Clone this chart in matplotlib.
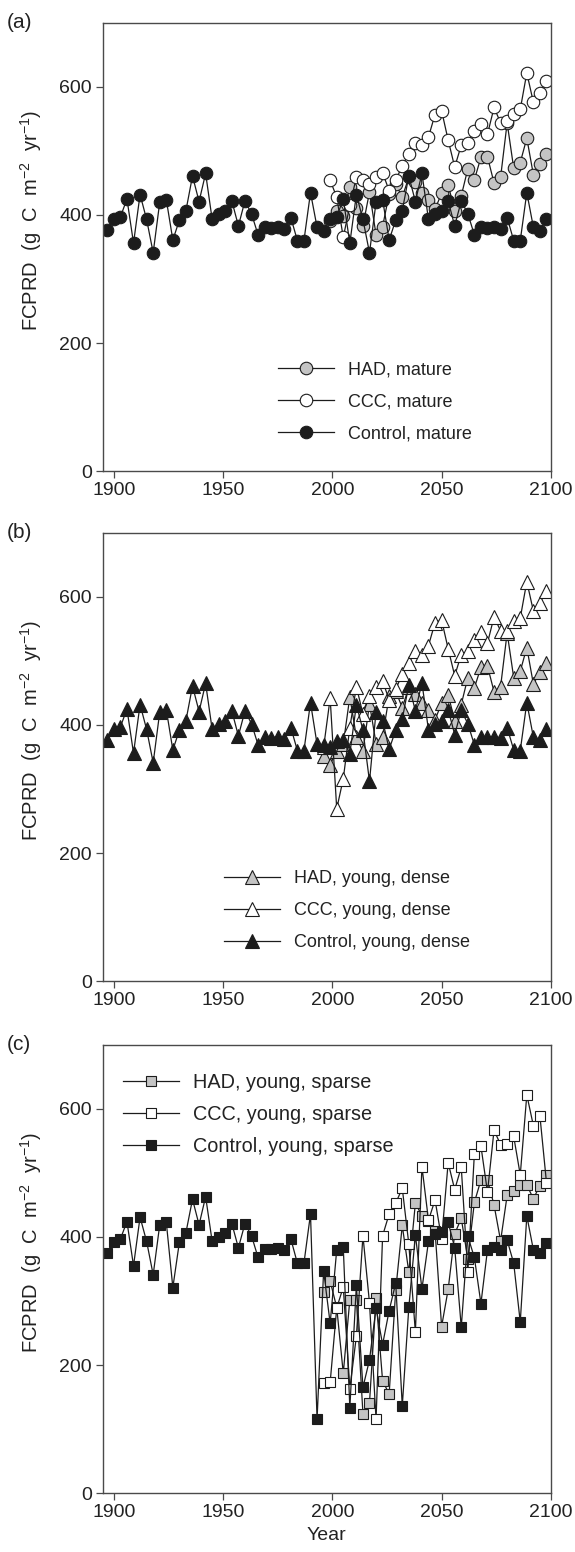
import matplotlib
matplotlib.use("Agg")
import matplotlib.pyplot as plt

plt.rcParams["font.family"] = ["Liberation Sans", "DejaVu Sans"]
plt.rcParams["mathtext.fontset"] = "custom"
plt.rcParams["mathtext.rm"] = "Liberation Sans"
plt.rcParams["mathtext.it"] = "Liberation Sans:italic"

years = [1897, 1900, 1903, 1906, 1909, 1912, 1915, 1918, 1921, 1924, 1927, 1930, 1933, 1936,
         1939, 1942, 1945, 1948, 1951, 1954, 1957, 1960, 1963, 1966, 1969, 1972, 1975, 1978,
         1981, 1984, 1987, 1990, 1993, 1996, 1999, 2002, 2005, 2008, 2011, 2014, 2017, 2020,
         2023, 2026, 2029, 2032, 2035, 2038, 2041, 2044, 2047, 2050, 2053, 2056, 2059, 2062,
         2065, 2068, 2071, 2074, 2077, 2080, 2083, 2086, 2089, 2092, 2095, 2098]
years_a = years[34:]   # scenario runs in (a) start 1999
years_bc = years[33:]  # scenario runs in (b), (c) start 1996

# (a) mature
control_a = [376, 393, 397, 425, 356, 432, 393, 341, 420, 424, 361, 392, 407, 461, 421, 465, 393,
             402, 406, 422, 383, 422, 402, 369, 381, 380, 382, 378, 396, 360, 360, 435, 381,
             375, 393, 397, 425, 356, 432, 393, 341, 420, 424, 361, 392, 407, 461, 421, 465, 393,
             402, 406, 422, 383, 422, 402, 369, 381, 380, 382, 378, 396, 360, 360, 435, 381, 375, 393]
had_a = [391, 407, 398, 444, 411, 383, 436, 369, 382, 433, 448, 428, 459, 451, 434, 423, 409,
         434, 447, 407, 430, 472, 455, 490, 491, 450, 459, 544, 473, 482, 520, 463, 480, 496]
ccc_a = [454, 428, 365, 415, 459, 454, 448, 459, 466, 438, 454, 477, 496, 512, 510, 522, 557,
         563, 517, 475, 509, 512, 531, 542, 526, 568, 544, 547, 558, 565, 622, 576, 590, 609]

# (b) young, dense
control_b = [376, 393, 397, 425, 356, 432, 393, 341, 420, 424, 361, 392, 407, 461, 421, 465, 393,
             402, 406, 422, 383, 422, 402, 369, 381, 380, 382, 378, 396, 360, 360, 435, 370,
             368, 365, 375, 376, 355, 432, 392, 312, 421, 407, 362, 392, 409, 463, 422, 466, 392,
             402, 407, 424, 385, 423, 402, 369, 381, 381, 381, 380, 396, 361, 360, 435, 381, 376, 393]
had_b = [351, 338, 360, 370, 444, 381, 359, 433, 371, 382, 445, 453, 427, 459, 449, 435, 423, 408,
         434, 447, 407, 432, 474, 458, 490, 492, 452, 460, 544, 474, 484, 521, 464, 482, 497]
ccc_b = [365, 442, 269, 316, 396, 460, 417, 446, 460, 469, 439, 456, 479, 497, 515, 510, 524, 560,
         564, 519, 477, 510, 515, 532, 545, 528, 569, 547, 547, 562, 567, 624, 578, 591, 610]

# (c) young, sparse
control_c = [375, 392, 397, 424, 355, 431, 393, 341, 419, 423, 321, 392, 407, 459, 419, 463, 393,
             400, 407, 421, 383, 421, 402, 368, 381, 381, 383, 380, 397, 359, 359, 436, 115,
             347, 265, 380, 384, 133, 325, 165, 208, 289, 232, 285, 328, 136, 290, 403, 319, 393,
             405, 408, 423, 383, 259, 401, 368, 296, 380, 384, 379, 395, 359, 267, 433, 380, 375, 391]
had_c = [314, 331, 290, 187, 302, 302, 124, 141, 304, 175, 155, 317, 418, 345, 453, 433, 425, 410,
         260, 318, 405, 429, 366, 454, 489, 489, 450, 394, 465, 472, 481, 481, 460, 480, 497]
ccc_c = [172, 173, 289, 322, 163, 245, 402, 297, 115, 402, 436, 453, 476, 389, 251, 510, 426, 458,
         397, 516, 474, 509, 345, 530, 542, 470, 567, 544, 546, 557, 497, 622, 574, 589, 485]

# tag, marker, size, scenario years, HAD, CCC, control, stand, legend anchor, legend font
panels = [
    ("(a)", "o", 9, years_a, had_a, ccc_a, control_a, "mature", (0.39, 0.244), 13),
    ("(b)", "^", 9.5, years_bc, had_b, ccc_b, control_b, "young, dense", (0.27, 0.247), 13),
    ("(c)", "s", 7.5, years_bc, had_c, ccc_c, control_c, "young, sparse", (0.045, 0.938), 14.3),
]

GRAY = "#c4c4c4"
DARK = "#1c1c1c"
SPINE = "#4a4a4a"
TXT = "#222222"

fig = plt.figure(figsize=(5.75, 15.52), dpi=100)
bottoms = [0.6965, 0.3679, 0.038]

for (tag, mk, ms, yrs, had, ccc, ctl, kind, anchor, lfs), b in zip(panels, bottoms):
    ax = fig.add_axes([0.179, b, 0.779, 0.2887])
    style = dict(marker=mk, markersize=ms, color=DARK, linewidth=0.9,
                 markeredgecolor=DARK, markeredgewidth=0.8)
    ax.plot(yrs, had, markerfacecolor=GRAY, label="HAD, " + kind, **style)
    ax.plot(yrs, ccc, markerfacecolor="white", label="CCC, " + kind, **style)
    ax.plot(years, ctl, markerfacecolor=DARK, label="Control, " + kind, **style)

    ax.set_xlim(1895, 2100)
    ax.set_ylim(0, 700)
    ax.set_xticks([1900, 1950, 2000, 2050, 2100])
    ax.set_yticks([0, 200, 400, 600])
    ax.tick_params(direction="out", length=5, width=0.9, color=SPINE,
                   labelsize=14, pad=3, labelcolor=TXT)
    for s in ax.spines.values():
        s.set_color(SPINE)
        s.set_linewidth(1.0)
    ax.set_ylabel("FCPRD  (g  C  m$^{\\mathregular{-2}}$  yr$^{\\mathregular{-1}}$)",
                  fontsize=14.5, color=TXT)
    ax.yaxis.set_label_coords(-0.132, 0.56)
    ax.text(-0.215, 1.0, tag, transform=ax.transAxes, fontsize=15, color=TXT,
            ha="left", va="center")
    em = lfs * 100 / 72
    ax.legend(loc="upper left", bbox_to_anchor=anchor, frameon=False, fontsize=lfs,
              handlelength=56 / em, handletextpad=14 / em, borderpad=0, borderaxespad=0,
              labelspacing=(30.5 - 0.87 * em) / em, labelcolor=TXT)

ax.set_xlabel("Year", fontsize=14, color=TXT, labelpad=4)

fig.savefig("out.png", dpi=100)
